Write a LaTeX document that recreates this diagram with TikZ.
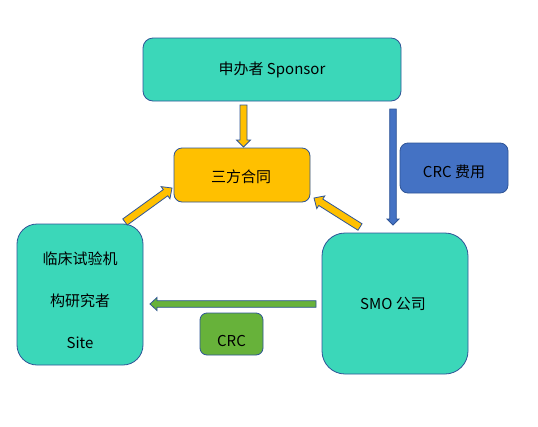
\documentclass[tikz,border=0pt]{standalone}
\usepackage{fontspec}
\setmainfont{Noto Sans CJK SC}
\usetikzlibrary{calc}
\definecolor{teal1}{HTML}{3BD7B9}
\definecolor{edge1}{HTML}{2F5597}
\definecolor{gold1}{HTML}{FFC000}
\definecolor{blue1}{HTML}{4472C4}
\definecolor{green1}{HTML}{67B23A}
\tikzset{
  box/.style={draw=edge1, line width=0.8pt, inner sep=0pt},
  lbl/.style={font=\fontsize{15pt}{18pt}\selectfont, inner sep=0pt, align=center},
  blk/.style={draw=edge1, line width=0.8pt, line join=miter}
}
% block arrow: from, to, half shaft, half head, head length, fill
\newcommand\blockarrow[6]{%
  \coordinate (bah) at ($(#2)!#5!(#1)$);
  \draw[blk, fill=#6] ($(#1)!#3!90:(#2)$) -- ($(bah)!#3!90:(#2)$) -- ($(bah)!#4!90:(#2)$) -- (#2)
    -- ($(bah)!#4!-90:(#2)$) -- ($(bah)!#3!-90:(#2)$) -- ($(#1)!#3!-90:(#2)$) -- cycle;
}
\begin{document}
\begin{tikzpicture}[x=1pt,y=-1pt]
\fill[white] (0,0) rectangle (538,426);
\useasboundingbox (0,0) rectangle (538,426);
% boxes
\node[box, fill=teal1, rounded corners=10pt, minimum width=258pt, minimum height=63pt] (sponsor) at (272,69.5) {};
\node[box, fill=gold1, rounded corners=8pt, minimum width=136pt, minimum height=54pt] (contract) at (242,175) {};
\node[box, fill=blue1, rounded corners=8pt, minimum width=108pt, minimum height=50pt] (fee) at (454,168) {};
\node[box, fill=teal1, rounded corners=20pt, minimum width=126pt, minimum height=141pt] (site) at (80,294.5) {};
\node[box, fill=teal1, rounded corners=23pt, minimum width=146pt, minimum height=141pt] (smo) at (395,303.5) {};
\node[box, fill=green1, rounded corners=7pt, minimum width=63pt, minimum height=42pt] (crc) at (231.5,334) {};
% texts
\node[lbl] (t-sponsor) at (sponsor.center) {申办者 Sponsor};
\node[lbl] (t-contract) at (241,177) {三方合同};
\node[lbl] (t-fee) at (454,172) {CRC 费用};
\node[lbl, font=\fontsize{15pt}{42pt}\selectfont] (t-site) at (80,300) {临床试验机\\构研究者\\Site};
\node[lbl] (t-smo) at (393,304) {SMO 公司};
\node[lbl] (t-crc) at (231.5,341) {CRC};
% arrow end points
\coordinate (a1s) at (243.5,105);
\coordinate (a1e) at (243.5,147);
\coordinate (a2s) at (393,109);
\coordinate (a2e) at (393,225);
\coordinate (a3s) at (125,222);
\coordinate (a3e) at (172,188);
\coordinate (a4s) at (360,227);
\coordinate (a4e) at (314,198);
\coordinate (a5s) at (316,304);
\coordinate (a5e) at (150,304);
\blockarrow{a1s}{a1e}{3.5pt}{7pt}{7pt}{gold1}
\blockarrow{a2s}{a2e}{3.3pt}{6pt}{6pt}{blue1}
\blockarrow{a3s}{a3e}{3.8pt}{7.5pt}{8pt}{gold1}
\blockarrow{a4s}{a4e}{3.8pt}{7.5pt}{8pt}{gold1}
\blockarrow{a5s}{a5e}{3.3pt}{6.5pt}{7pt}{green1}
\end{tikzpicture}
\end{document}
